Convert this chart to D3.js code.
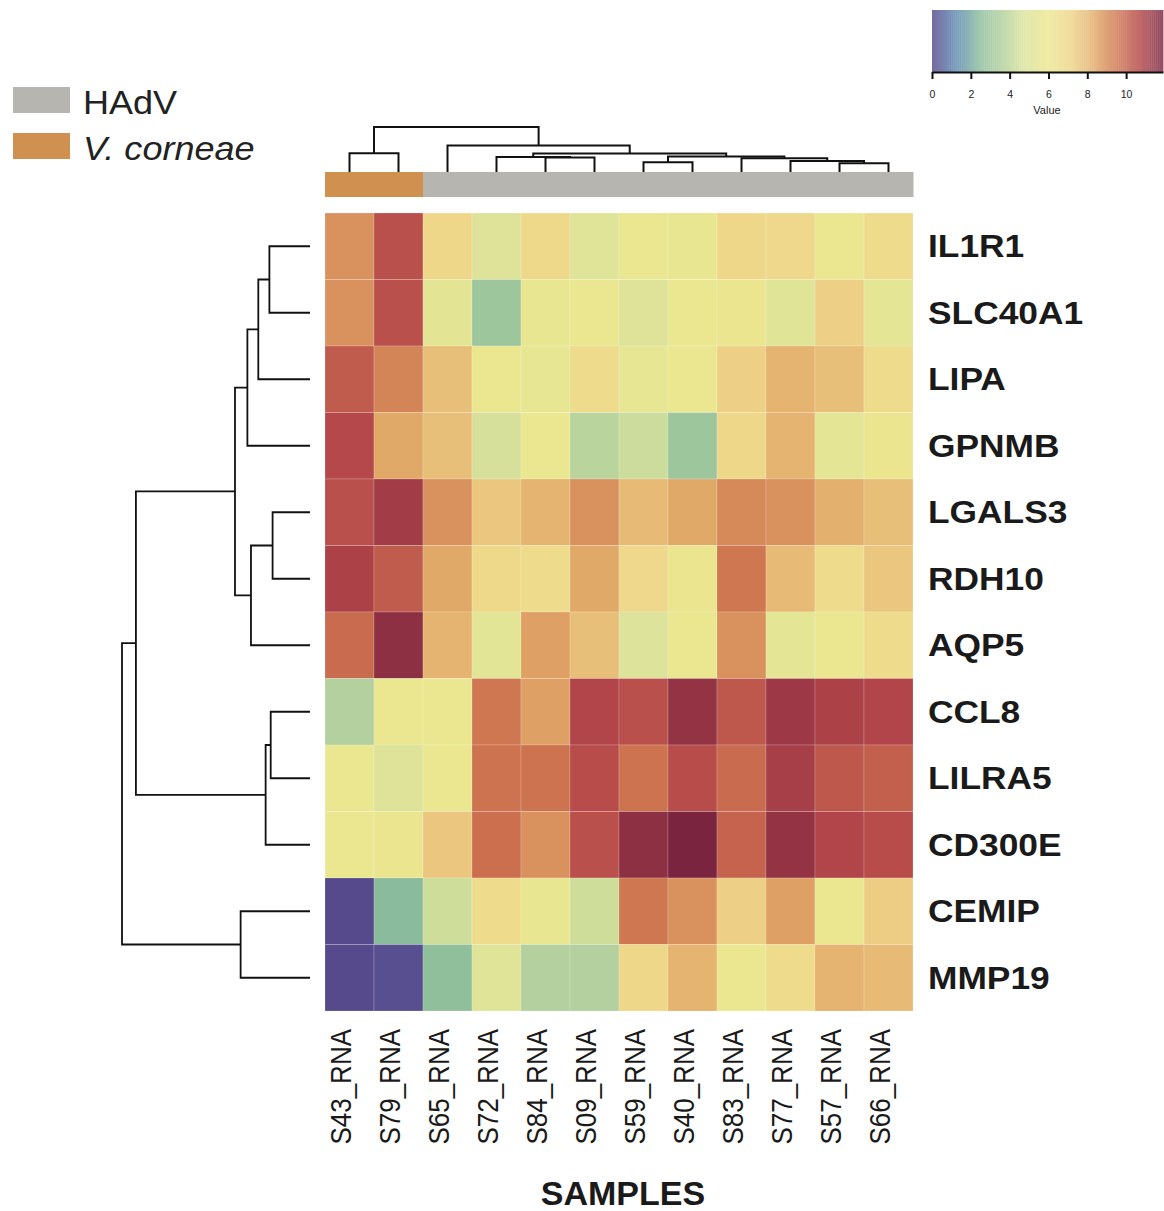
<!DOCTYPE html>
<html>
<head>
<meta charset="utf-8">
<script src="https://cdn.jsdelivr.net/npm/d3@7"></script>
<style>
body { margin: 0; background: #fff; }
text { font-family: "Liberation Sans", Arial, Helvetica, sans-serif; }
</style>
</head>
<body>
<div id="chart"></div>
<script>

// Samples (columns) in dendrogram order
var samples = ["S43_RNA", "S79_RNA", "S65_RNA", "S72_RNA", "S84_RNA", "S09_RNA",
	"S59_RNA", "S40_RNA", "S83_RNA", "S77_RNA", "S57_RNA", "S66_RNA"];

// Infection group of each sample
var sampleGroup = ["V. corneae", "V. corneae", "HAdV", "HAdV", "HAdV", "HAdV",
	"HAdV", "HAdV", "HAdV", "HAdV", "HAdV", "HAdV"];

var groups = ["HAdV", "V. corneae"];

// Genes (rows) in dendrogram order
var genes = ["IL1R1", "SLC40A1", "LIPA", "GPNMB", "LGALS3", "RDH10", "AQP5",
	"CCL8", "LILRA5", "CD300E", "CEMIP", "MMP19"];

// Expression values, one row per gene, columns in sample order
var expression = [
	[8.9, 10.5, 7.1, 4.9, 6.9, 5.0, 6.0, 5.8, 7.1, 7.0, 5.9, 6.7],    // IL1R1
	[8.9, 10.5, 5.3, 3.0, 5.8, 5.9, 4.9, 5.9, 6.1, 5.1, 7.3, 5.4],    // SLC40A1
	[10.2, 9.2, 7.8, 6.0, 5.6, 6.8, 5.6, 5.9, 7.3, 8.1, 7.8, 6.8],    // LIPA
	[10.7, 8.4, 7.8, 4.6, 5.9, 3.8, 4.3, 3.0, 7.1, 8.1, 5.4, 6.1],    // GPNMB
	[10.5, 11.1, 8.9, 7.6, 8.1, 8.9, 7.9, 8.4, 9.1, 8.9, 8.2, 7.8],   // LGALS3
	[10.9, 10.2, 8.4, 6.9, 6.8, 8.4, 7.0, 6.1, 9.5, 7.9, 6.8, 7.6],   // RDH10
	[9.8, 11.5, 8.1, 5.2, 8.6, 7.8, 4.8, 6.0, 8.9, 5.4, 5.9, 6.7],    // AQP5
	[3.6, 5.9, 5.9, 9.5, 8.6, 10.8, 10.5, 11.4, 10.3, 11.2, 10.9, 10.8], // CCL8
	[5.9, 4.9, 5.9, 9.6, 9.6, 10.6, 9.6, 10.6, 9.8, 11.0, 10.3, 10.1],  // LILRA5
	[5.9, 6.1, 7.6, 9.7, 8.9, 10.5, 11.5, 11.9, 10.0, 11.4, 10.8, 10.6], // CD300E
	[0.0, 2.4, 4.4, 6.8, 5.8, 4.4, 9.5, 8.9, 7.3, 8.6, 5.9, 7.4],    // CEMIP
	[0.0, 0.1, 2.6, 5.0, 3.6, 3.6, 7.1, 8.1, 5.9, 6.8, 8.1, 7.9]     // MMP19
];

// Column clustering: [left, right, height]; numbers point to earlier rows
var sampleMerges = [
	["S43_RNA", "S79_RNA", 0.418],  // 0
	["S84_RNA", "S09_RNA", 0.320],  // 1
	["S72_RNA", 1, 0.336],          // 2
	["S59_RNA", "S40_RNA", 0.217],  // 3
	["S57_RNA", "S66_RNA", 0.195],  // 4
	["S77_RNA", 4, 0.246],          // 5
	["S83_RNA", 5, 0.306],          // 6
	[3, 6, 0.342],                  // 7
	[2, 7, 0.409],                  // 8
	["S65_RNA", 8, 0.588],          // 9
	[0, 9, 1.0]                     // 10
];

// Row clustering, same format
var geneMerges = [
	["IL1R1", "SLC40A1", 0.216],  // 0
	[0, "LIPA", 0.275],           // 1
	[1, "GPNMB", 0.333],          // 2
	["LGALS3", "RDH10", 0.199],   // 3
	[3, "AQP5", 0.314],           // 4
	[2, 4, 0.399],                // 5
	["CCL8", "LILRA5", 0.209],    // 6
	[6, "CD300E", 0.236],         // 7
	[5, 7, 0.926],                // 8
	["CEMIP", "MMP19", 0.369],    // 9
	[8, 9, 1.0]                   // 10
];

var keyTicks = [0, 2, 4, 6, 8, 10];
var valueMax = 11.9;

// Muted spectral palette, low to high
var palette = ["#574a8c", "#5a86b0", "#88bb9c", "#b2d09e", "#dce39a", "#ebe790",
	"#efd68a", "#e2ac6a", "#cf7650", "#b5484a", "#7a2440"];

var width = 1164,
height = 1211;

// Text in the figure is a bit wider than tall
var stretch = 1.1;

var svg = d3.select("#chart")
	.append("svg")
	.attr("width", width)
	.attr("height", height);

var x = d3.scaleBand()
	.domain(samples)
	.range([325, 913]);

var y = d3.scaleBand()
	.domain(genes)
	.range([213, 1011]);

var color = d3.scaleLinear()
	.domain(d3.range(palette.length).map(i => i * valueMax / (palette.length - 1)))
	.range(palette)
	.interpolate(d3.interpolateRgb)
	.clamp(true);

var groupColor = d3.scaleOrdinal()
	.domain(groups)
	.range(["#b6b5b0", "#d09050"]);

// Turn a merge table into a d3 hierarchy
function buildTree(merges) {
	var nodes = [];
	merges.forEach(function(m, i) {
		var kids = [m[0], m[1]].map(function(c) {
			return typeof c === "number" ? nodes[c] : { name: c, height: 0 };
		});
		nodes[i] = { height: m[2], children: kids };
	});
	return d3.hierarchy(nodes[nodes.length - 1]);
}

// Leaf position from band scale, inner nodes at the middle of their children
function placeTree(root, band) {
	root.eachAfter(function(d) {
		if (d.children) {
			d.pos = d3.mean(d.children, c => c.pos);
		} else {
			d.pos = band(d.data.name) + band.bandwidth() / 2;
		}
	});
	return root;
}

// Heatmap cells
var cells = [];
genes.forEach(function(g, i) {
	samples.forEach(function(s, j) {
		cells.push({ gene: g, sample: s, value: expression[i][j] });
	});
});

svg.append("g")
	.attr("class", "cells")
	.selectAll("rect")
	.data(cells)
	.enter().append("rect")
	.attr("x", d => x(d.sample))
	.attr("y", d => y(d.gene))
	.attr("width", x.bandwidth())
	.attr("height", y.bandwidth())
	.attr("fill", d => color(d.value))
	.attr("stroke", "rgba(255,255,255,0.3)")
	.attr("stroke-width", 0.6);

// Group colour bar above the heatmap
svg.append("g")
	.selectAll("rect")
	.data(samples)
	.enter().append("rect")
	.attr("x", d => x(d))
	.attr("y", 172)
	.attr("width", x.bandwidth() + 0.5)
	.attr("height", 25)
	.attr("fill", (d, i) => groupColor(sampleGroup[i]));

// Column dendrogram
var colTree = placeTree(buildTree(sampleMerges), x);
var colH = d3.scaleLinear().domain([0, 1]).range([172, 127]);

svg.append("g")
	.selectAll("path")
	.data(colTree.descendants().filter(d => d.children))
	.enter().append("path")
	.attr("d", function(d) {
		var a = d.children[0], b = d.children[1];
		return "M" + a.pos + "," + colH(a.data.height) +
			"V" + colH(d.data.height) +
			"H" + b.pos +
			"V" + colH(b.data.height);
	})
	.attr("fill", "none")
	.attr("stroke", "#111")
	.attr("stroke-width", 2);

// Row dendrogram
var rowTree = placeTree(buildTree(geneMerges), y);
var rowH = d3.scaleLinear().domain([0, 1]).range([310, 122]);

svg.append("g")
	.selectAll("path")
	.data(rowTree.descendants().filter(d => d.children))
	.enter().append("path")
	.attr("d", function(d) {
		var a = d.children[0], b = d.children[1];
		return "M" + rowH(a.data.height) + "," + a.pos +
			"H" + rowH(d.data.height) +
			"V" + b.pos +
			"H" + rowH(b.data.height);
	})
	.attr("fill", "none")
	.attr("stroke", "#111")
	.attr("stroke-width", 1.8);

// Row labels
svg.append("g")
	.selectAll("text")
	.data(genes)
	.enter().append("text")
	.attr("transform", d => "translate(928," + (y(d) + y.bandwidth() / 2) + ") scale(1.14,1)")
	.attr("dy", "0.36em")
	.style("font-size", "31px")
	.style("font-weight", "bold")
	.attr("fill", "#1a1a1a")
	.text(d => d);

// Column labels
svg.append("g")
	.selectAll("text")
	.data(samples)
	.enter().append("text")
	.attr("transform", d => "translate(" + (x(d) + x.bandwidth() / 2 + 1) + ",1029) scale(" + stretch + ",1) rotate(-90)")
	.attr("text-anchor", "end")
	.style("font-size", "26px")
	.attr("fill", "#1a1a1a")
	.text(d => d);

// Axis title
svg.append("text")
	.attr("x", 623)
	.attr("y", 1205)
	.attr("text-anchor", "middle")
	.style("font-size", "34px")
	.style("font-weight", "bold")
	.attr("fill", "#1a1a1a")
	.text("SAMPLES");

// Group legend, top left
var legend = svg.append("g")
	.selectAll("g")
	.data(groups)
	.enter().append("g")
	.attr("transform", (d, i) => "translate(13," + (87 + i * 46) + ")");

legend.append("rect")
	.attr("width", 57)
	.attr("height", 26)
	.attr("fill", d => groupColor(d));

legend.append("text")
	.attr("transform", "translate(70,27) scale(1.06,1)")
	.style("font-size", "34px")
	.style("font-style", (d, i) => i == 1 ? "italic" : "normal")
	.attr("fill", "#222")
	.text(d => d);

// Colour key, top right
var keyScale = d3.scaleLinear()
	.domain([0, valueMax])
	.range([932, 1163]);

var key = svg.append("g");

key.append("g")
	.attr("opacity", 0.82)
	.selectAll("rect")
	.data(d3.range(0, valueMax, 0.1))
	.enter().append("rect")
	.attr("x", d => keyScale(d))
	.attr("y", 10)
	.attr("width", keyScale(0.1) - keyScale(0) + 0.4)
	.attr("height", 62)
	.attr("fill", d => color(d + 0.05));

var keyAxis = key.append("g")
	.attr("transform", "translate(0,72)")
	.call(d3.axisBottom(keyScale).tickValues(keyTicks).tickSize(7).tickSizeOuter(0).tickPadding(12));

keyAxis.select(".domain").attr("stroke", "#111").attr("stroke-width", 2);
keyAxis.selectAll(".tick line").attr("stroke", "#111").attr("stroke-width", 2);
keyAxis.selectAll(".tick text")
	.style("font-size", "10.5px")
	.style("font-family", "'Liberation Sans', Arial, sans-serif")
	.attr("fill", "#222");

key.append("text")
	.attr("x", 1047)
	.attr("y", 114)
	.attr("text-anchor", "middle")
	.style("font-size", "11px")
	.attr("fill", "#222")
	.text("Value");

</script>
</body>
</html>
